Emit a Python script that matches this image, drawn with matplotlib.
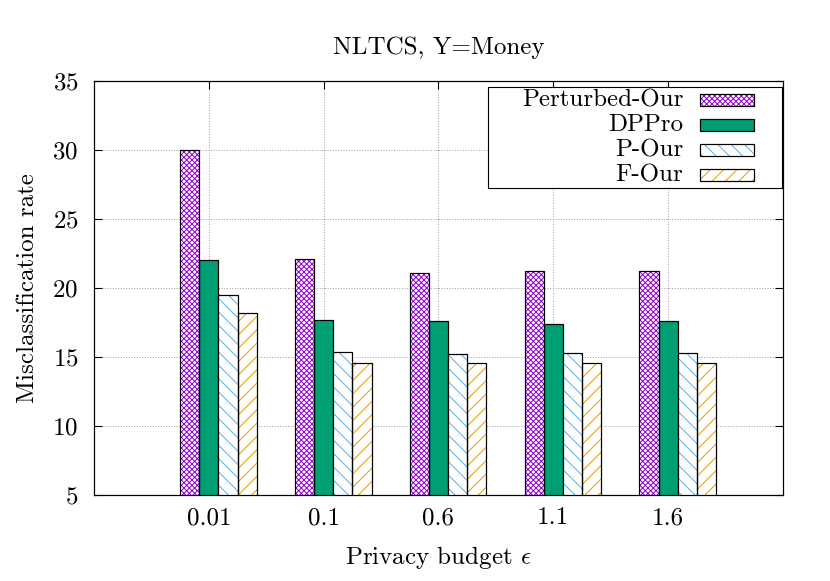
import matplotlib
matplotlib.use("Agg")
import matplotlib.pyplot as plt
from matplotlib.patches import Rectangle
import numpy as np

# data
budgets = ["0.01", "0.1", "0.6", "1.1", "1.6"]
perturbed_our = [30.0, 22.1, 21.1, 21.2, 21.2]
dppro = [22.0, 17.7, 17.6, 17.4, 17.6]
p_our = [19.5, 15.35, 15.2, 15.3, 15.3]
f_our = [18.2, 14.6, 14.6, 14.6, 14.6]

labels = ["Perturbed-Our", "DPPro", "P-Our", "F-Our"]
colors = ["#9400d3", "#009e73", "#56b4e9", "#e69f00"]
hatches = ["xxxxx", None, "\\\\", "//"]
values = [perturbed_our, dppro, p_our, f_our]

DPI = 80
FS = 22.5

plt.rcParams["font.family"] = "cmr10"
plt.rcParams["mathtext.fontset"] = "cm"
plt.rcParams["axes.formatter.use_mathtext"] = True
plt.rcParams["hatch.linewidth"] = 0.9

fig = plt.figure(figsize=(830 / DPI, 581 / DPI), dpi=DPI)
ax = fig.add_axes([94 / 830, 1 - 495 / 581, 689 / 830, 414 / 581])

x = np.arange(len(budgets))
width = 1 / 6

for j, (vals, col, h) in enumerate(zip(values, colors, hatches)):
    xs = x + (j - 1) * width
    if h is None:
        ax.bar(xs, vals, width, color=col, edgecolor="black", linewidth=1.1, zorder=2)
    else:
        ax.bar(xs, vals, width, facecolor="white", edgecolor=col, hatch=h, linewidth=0, zorder=2)
        ax.bar(xs, vals, width, fill=False, edgecolor="black", linewidth=1.1, zorder=3)

ax.set_xlim(-1, 5)
ax.set_ylim(5, 35)
ax.set_xticks(x)
ax.set_xticklabels(budgets)
ax.set_yticks(np.arange(5, 36, 5))
ax.tick_params(direction="in", top=True, right=True, length=7, width=1.0,
               labelsize=FS)
ax.tick_params(axis="y", pad=14)
ax.tick_params(axis="x", pad=11)
for s in ax.spines.values():
    s.set_linewidth(1.1)
ax.set_axisbelow(True)
ax.grid(True, linestyle=":", color="#a0a0a0", linewidth=0.9)

ax.set_title("NLTCS, Y=Money", fontsize=FS, pad=24)
ax.set_xlabel(r"Privacy budget $\epsilon$", fontsize=FS, labelpad=13)
ax.set_ylabel("Misclassification rate", fontsize=FS, labelpad=12)

# legend box, gnuplot style
tr = ax.transAxes
ax.add_patch(Rectangle((0.572, 0.7415), 0.4265, 0.244, transform=tr,
                       facecolor="white", edgecolor="black", linewidth=1.0, zorder=5))
row_y = [0.954, 0.894, 0.833, 0.773]
for lab, col, h, yy in zip(labels, colors, hatches, row_y):
    ax.text(0.855, yy, lab, transform=tr, ha="right", va="center",
            fontsize=FS, zorder=6)
    if h is None:
        ax.add_patch(Rectangle((0.8795, yy - 0.0145), 0.0784, 0.029, transform=tr,
                               facecolor=col, edgecolor="black", linewidth=1.1, zorder=6))
    else:
        ax.add_patch(Rectangle((0.8795, yy - 0.0145), 0.0784, 0.029, transform=tr,
                               facecolor="white", edgecolor=col, hatch=h, linewidth=0, zorder=6))
        ax.add_patch(Rectangle((0.8795, yy - 0.0145), 0.0784, 0.029, transform=tr,
                               fill=False, edgecolor="black", linewidth=1.1, zorder=7))

fig.savefig("out.png", dpi=DPI)
